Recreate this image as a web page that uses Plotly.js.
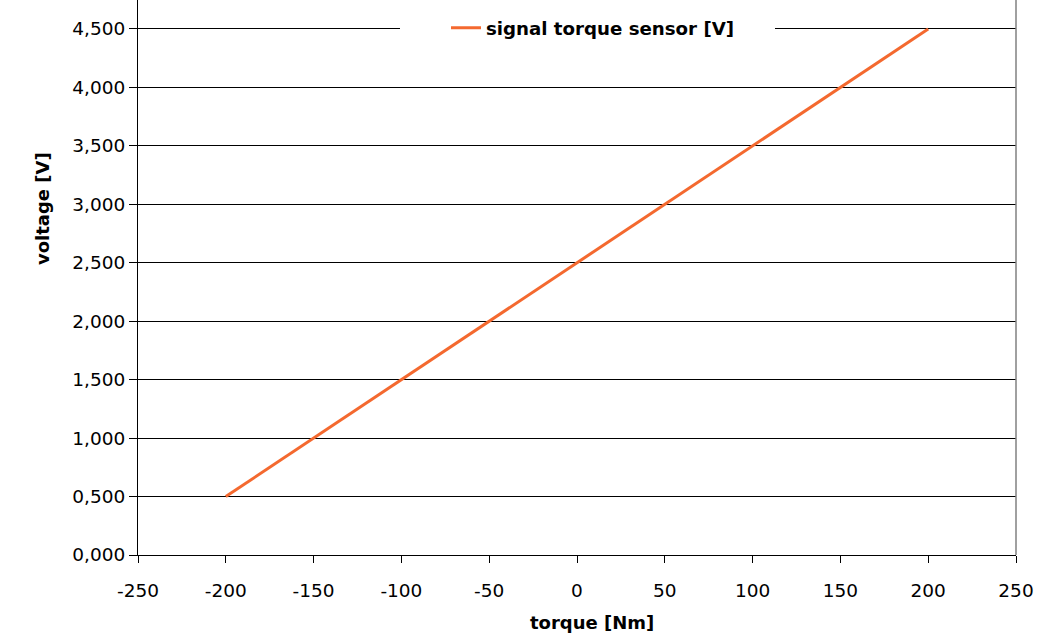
<!DOCTYPE html>
<html>
<head>
<meta charset="utf-8">
<script src="https://cdn.plot.ly/plotly-3.0.1.min.js"></script>
<style>html,body{margin:0;padding:0;background:#fff;}#chart{width:1056px;height:643px;}</style>
</head>
<body>
<div id="chart"></div>
<script>
var torque = [-200, -150, -100, -50, 0, 50, 100, 150, 200];
var voltage = [0.5, 1.0, 1.5, 2.0, 2.5, 3.0, 3.5, 4.0, 4.5];
var seriesName = 'signal torque sensor [V]';
var xTitle = 'torque [Nm]';
var yTitle = 'voltage [V]';
var xTickVals = [-250, -200, -150, -100, -50, 0, 50, 100, 150, 200, 250];
var xTickText = ['-250', '-200', '-150', '-100', '-50', '0', '50', '100', '150', '200', '250'];

var FONT = 'DejaVu Sans, sans-serif';

var trace = {
  x: torque,
  y: voltage,
  type: 'scatter',
  mode: 'lines',
  name: seriesName,
  line: {color: '#F4692F', width: 3}
};

var layout = {
  width: 1056,
  height: 643,
  margin: {l: 138, r: 40, t: 0, b: 88},
  paper_bgcolor: '#ffffff',
  plot_bgcolor: '#ffffff',
  separators: ',.',
  showlegend: true,
  font: {family: FONT, size: 18, color: '#000'},
  legend: {
    orientation: 'h',
    x: 0.3508, xanchor: 'left',
    y: 0.9495, yanchor: 'middle',
    bgcolor: '#ffffff',
    borderwidth: 0,
    font: {family: FONT, size: 18.2, color: '#000', weight: 'bold'}
  },
  xaxis: {
    range: [-250, 250],
    tickmode: 'array',
    tickvals: xTickVals,
    ticktext: xTickText,
    showgrid: false,
    zeroline: false,
    showline: true,
    linecolor: '#000',
    linewidth: 1,
    ticks: 'outside',
    ticklen: 7,
    tickcolor: '#000',
    ticklabelstandoff: 12,
    tickfont: {family: FONT, size: 18.5, color: '#000'}
  },
  yaxis: {
    range: [0, 4.748],
    dtick: 0.5,
    tick0: 0,
    tickformat: '.3f',
    showgrid: true,
    gridcolor: '#000',
    gridwidth: 1,
    zeroline: false,
    showline: true,
    linecolor: '#000',
    linewidth: 1,
    ticks: 'outside',
    ticklen: 8,
    tickcolor: '#000',
    tickfont: {family: FONT, size: 18.5, color: '#000'}
  },
  annotations: [
    {text: yTitle, xref: 'paper', yref: 'paper', x: -0.1093, y: 0.6234,
     xanchor: 'center', yanchor: 'middle', textangle: -90, showarrow: false,
     font: {family: FONT, size: 18, color: '#000', weight: 'bold'}},
    {text: xTitle, xref: 'paper', yref: 'paper', x: 0.517, y: -0.1225,
     xanchor: 'center', yanchor: 'middle', showarrow: false,
     font: {family: FONT, size: 18, color: '#000', weight: 'bold'}}
  ],
  shapes: [
    {type: 'rect', xref: 'paper', yref: 'paper', layer: 'above',
     x0: 0.2984, x1: 0.7255, y0: 0.93, y1: 0.97,
     fillcolor: '#ffffff', line: {width: 0}},
    {type: 'line', xref: 'paper', yref: 'paper',
     x0: 1, x1: 1, y0: 0, y1: 1,
     line: {color: '#808080', width: 1.5}}
  ]
};

Plotly.newPlot('chart', [trace], layout, {displayModeBar: false, staticPlot: true});
</script>
</body>
</html>
